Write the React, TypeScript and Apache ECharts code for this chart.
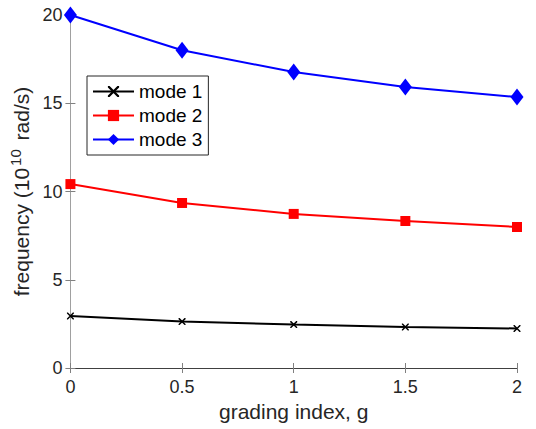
import React, { useEffect, useRef } from "react";
import * as echarts from "echarts";

const gradingIndex = [0, 0.5, 1, 1.5, 2];
const mode1 = [2.95, 2.63, 2.46, 2.32, 2.24];
const mode2 = [10.42, 9.35, 8.73, 8.33, 7.99];
const mode3 = [20.0, 18.0, 16.77, 15.92, 15.35];
const seriesNames = ["mode 1", "mode 2", "mode 3"];
const xTicks = [0, 0.5, 1, 1.5, 2];
const yTicks = [0, 5, 10, 15, 20];

const FONT = "Liberation Sans, Arial, sans-serif";
const crossPath = "path://M0,0 L1.5,0 L10,8.5 L10,10 L8.5,10 L0,1.5 Z M10,0 L10,1.5 L1.5,10 L0,10 L0,8.5 L8.5,0 Z";

export default function App() {
  const ref = useRef<HTMLDivElement>(null);
  useEffect(() => {
    if (!ref.current) return;
    const chart = echarts.init(ref.current, undefined, { renderer: "svg" });
    const toPairs = (arr: number[]) => gradingIndex.map((x, i) => [x, arr[i]]);
    const axisLabel = { color: "#262626", fontSize: 18, fontFamily: FONT };
    chart.setOption({
      animation: false,
      backgroundColor: "#ffffff",
      grid: { left: 68, right: 19, top: 15, bottom: 61, containLabel: false },
      legend: {
        left: 87,
        top: 76,
        orient: "vertical",
        data: seriesNames,
        backgroundColor: "#ffffff",
        borderColor: "#262626",
        borderWidth: 1,
        borderRadius: 0,
        padding: [6, 6, 6, 5],
        itemGap: 5,
        itemWidth: 41,
        itemHeight: 14,
        textStyle: { color: "#000", fontSize: 19, fontFamily: FONT, lineHeight: 19 },
      },
      xAxis: [
        {
          type: "value",
          min: 0,
          max: 2,
          interval: 0.5,
          name: "grading index, g",
          nameLocation: "middle",
          nameGap: 33,
          nameTextStyle: { color: "#262626", fontSize: 21, fontFamily: FONT },
          axisLine: { show: true, lineStyle: { color: "#a0a0a0", width: 1 } },
          axisTick: { show: true, inside: true, length: 5, lineStyle: { color: "#808080" } },
          axisLabel: { ...axisLabel, margin: 10, formatter: (v: number) => (xTicks.includes(v) ? String(v) : "") },
          splitLine: { show: false },
        },
        {
          type: "value",
          position: "top",
          min: 0,
          max: 2,
          interval: 0.5,
          axisLine: { show: true, lineStyle: { color: "#404040", width: 1 } },
          axisTick: { show: true, inside: true, length: 5, lineStyle: { color: "#808080" } },
          axisLabel: { show: false },
          splitLine: { show: false },
        },
      ],
      yAxis: [
        {
          type: "value",
          min: 0,
          max: 20,
          interval: 5,
          name: "frequency (10{sup|10} rad/s)",
          nameLocation: "middle",
          nameGap: 25,
          nameTextStyle: {
            color: "#262626",
            fontSize: 21,
            fontFamily: FONT,
            rich: {
              sup: {
                fontSize: 15,
                fontFamily: FONT,
                color: "#262626",
                verticalAlign: "top",
                padding: [0, 3, 11, 2],
              },
            },
          },
          axisLine: { show: true, lineStyle: { color: "#a0a0a0", width: 1 } },
          axisTick: { show: true, inside: true, length: 5, lineStyle: { color: "#808080" } },
          axisLabel: { ...axisLabel, margin: 8, formatter: (v: number) => (yTicks.includes(v) ? String(v) : "") },
          splitLine: { show: false },
        },
        {
          type: "value",
          position: "right",
          min: 0,
          max: 20,
          interval: 5,
          axisLine: { show: true, lineStyle: { color: "#a0a0a0", width: 1 } },
          axisTick: { show: true, inside: true, length: 5, lineStyle: { color: "#808080" } },
          axisLabel: { show: false },
          splitLine: { show: false },
        },
      ],
      series: [
        {
          name: seriesNames[0],
          type: "line",
          data: toPairs(mode1),
          symbol: crossPath,
          symbolSize: 7,
          color: "#000000",
          lineStyle: { color: "#000000", width: 2 },
          itemStyle: { color: "#000000" },
        },
        {
          name: seriesNames[1],
          type: "line",
          data: toPairs(mode2),
          symbol: "rect",
          symbolSize: 10,
          color: "#ff0000",
          lineStyle: { color: "#ff0000", width: 2 },
          itemStyle: { color: "#ff0000" },
        },
        {
          name: seriesNames[2],
          type: "line",
          data: toPairs(mode3),
          symbol: "diamond",
          symbolSize: [13, 17],
          color: "#0000ff",
          lineStyle: { color: "#0000ff", width: 2 },
          itemStyle: { color: "#0000ff" },
        },
      ],
    });
    return () => chart.dispose();
  }, []);
  return <div ref={ref} style={{ width: 536, height: 429, position: "absolute", left: 0, top: 0 }} />;
}
